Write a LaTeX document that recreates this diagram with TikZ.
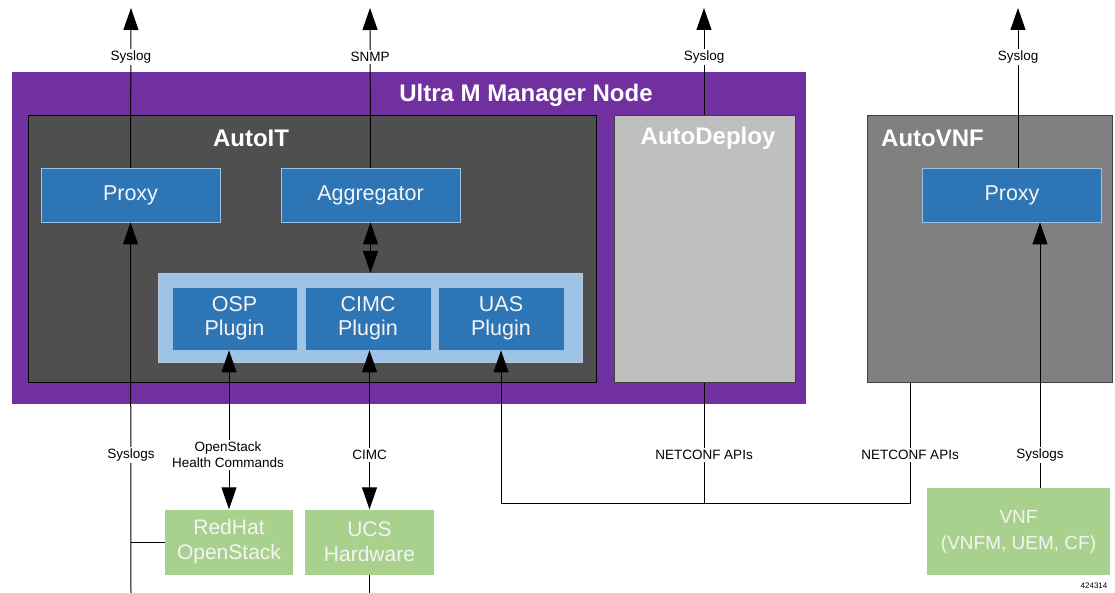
\documentclass[tikz,border=0pt]{standalone}
\usepackage{fontspec}
\setmainfont{Liberation Sans}
\usetikzlibrary{arrows.meta}
\definecolor{umpurple}{HTML}{7030A0}
\definecolor{autoitgray}{HTML}{4F4F4F}
\definecolor{deploygray}{HTML}{BFBFBF}
\definecolor{vnfgray}{HTML}{808080}
\definecolor{boxblue}{HTML}{2E75B6}
\definecolor{boxblueedge}{HTML}{9DBFE0}
\definecolor{lightblue}{HTML}{9DC3E6}
\definecolor{lightblueedge}{HTML}{B8C8D8}
\definecolor{boxgreen}{HTML}{A9D18E}
\definecolor{softwhite}{HTML}{F4F4F4}
\tikzset{
  bluebox/.style={fill=boxblue, draw=boxblueedge, line width=0.8pt, text=softwhite, font=\fontsize{21.5}{24}\selectfont, align=center, inner sep=0pt},
  greenbox/.style={fill=boxgreen, draw=none, text=softwhite, font=\fontsize{21}{25}\selectfont, align=center, inner sep=0pt},
  titletext/.style={text=white, font=\bfseries\fontsize{24}{28}\selectfont, inner sep=0pt},
  lbl/.style={fill=white, font=\fontsize{13.5}{16}\selectfont, align=center, inner sep=2pt},
  conn/.style={draw=black, line width=1pt},
  arr/.style={conn, -{Triangle[width=15pt,length=22pt]}},
  darr/.style={conn, {Triangle[width=15pt,length=22pt]}-{Triangle[width=15pt,length=22pt]}},
}
\begin{document}
\begin{tikzpicture}[x=1pt,y=-1pt]
\useasboundingbox (0,0) rectangle (1115,593);

% containers
\node[fill=umpurple, inner sep=0pt, minimum width=794pt, minimum height=332pt, anchor=north west] (ultram) at (12,72) {};
\node[fill=autoitgray, draw=black, line width=1pt, inner sep=0pt, minimum width=568pt, minimum height=267pt, anchor=north west] (autoit) at (28,115) {};
\node[fill=deploygray, draw=black!75, line width=1pt, inner sep=0pt, minimum width=181pt, minimum height=267pt, anchor=north west] (autodeploy) at (614,115) {};
\node[fill=vnfgray, draw=black!75, line width=1pt, inner sep=0pt, minimum width=245pt, minimum height=267pt, anchor=north west] (autovnf) at (867,115) {};
\node[fill=lightblue, draw=lightblueedge, line width=0.8pt, inner sep=0pt, minimum width=424pt, minimum height=89pt, anchor=north west] (plugins) at (158,273) {};

% titles
\node[titletext] (tUltra) at (526,95) {Ultra M Manager Node};
\node[titletext] (tAutoIT) at (251,138) {AutoIT};
\node[titletext] (tAutoDeploy) at (708,138) {AutoDeploy};
\node[titletext, anchor=west] (tAutoVNF) at (881,138) {AutoVNF};

% blue boxes
\node[bluebox, minimum width=179pt, minimum height=54pt] (proxy1) at (130.5,195) {Proxy};
\node[bluebox, minimum width=179pt, minimum height=54pt] (aggr) at (370.5,195) {Aggregator};
\node[bluebox, minimum width=179pt, minimum height=54pt] (proxy2) at (1012,195) {Proxy};
\node[bluebox, minimum width=125pt, minimum height=63pt] (osp) at (234.5,318.5) {OSP\\Plugin};
\node[bluebox, minimum width=126pt, minimum height=63pt] (cimc) at (368,318.5) {CIMC\\Plugin};
\node[bluebox, minimum width=126pt, minimum height=63pt] (uas) at (501,318.5) {UAS\\Plugin};

% green boxes
\node[greenbox, minimum width=128pt, minimum height=65pt] (redhat) at (229,542) {RedHat\\OpenStack};
\node[greenbox, minimum width=129pt, minimum height=65pt] (ucs) at (369.5,542) {UCS\\Hardware};
\node[greenbox, font=\fontsize{19}{26}\selectfont, minimum width=183pt, minimum height=87pt] (vnf) at (1018.5,531.5) {VNF\\(VNFM, UEM, CF)};

% helper coordinates
\coordinate (top1) at (131,8);
\coordinate (top2) at (370,8);
\coordinate (top3) at (704,8);
\coordinate (top4) at (1018,8);
\coordinate (xvnf) at (1040,0);
\coordinate (xnc) at (910,0);
\coordinate (ybus) at (0,503);
\coordinate (bot1) at (131,593);
\coordinate (bot2) at (369.5,593);

% upward syslog / snmp connectors
\draw[arr] (proxy1.north) -- (top1);
\draw[arr] (aggr.north) -- (top2);
\draw[arr] (autodeploy.north -| top3) -- (top3);
\draw[arr] (proxy2.north -| top4) -- (top4);

% internal
\draw[darr] (aggr.south) -- (plugins.north -| aggr.south);

% syslogs from bottom to AutoIT proxy
\draw[arr] (bot1) -- (proxy1.south);
\draw[conn] (redhat.west -| bot1) -- (redhat.west);

% openstack health
\draw[darr] (osp.south -| redhat.north) -- (redhat.north);
% cimc
\draw[darr] (cimc.south -| ucs.north) -- (ucs.north);
\draw[conn] (ucs.south) -- (bot2);

% NETCONF bus
\draw[arr] (autovnf.south -| xnc) -- (ybus -| xnc) -- (ybus -| uas.south) -- (uas.south);
\draw[conn] (autodeploy.south -| top3) -- (ybus -| top3);

% VNF syslogs
\draw[arr] (vnf.north -| xvnf) -- (proxy2.south -| xvnf);

% labels
\node[lbl] (lSys1) at (131,57) {Syslog};
\node[lbl] (lSnmp) at (370,57) {SNMP};
\node[lbl] (lSys3) at (704,57) {Syslog};
\node[lbl] (lSys4) at (1018,57) {Syslog};
\node[lbl] (lSyslogs1) at (131,455) {Syslogs};
\node[lbl] (lOS) at (228,455) {OpenStack\\Health Commands};
\node[lbl] (lCimc) at (369.5,455) {CIMC};
\node[lbl] (lNc1) at (704,455) {NETCONF APIs};
\node[lbl] (lNc2) at (910,455) {NETCONF APIs};
\node[lbl] (lSyslogs2) at (1040,455) {Syslogs};
\node[font=\fontsize{8}{9}\selectfont, inner sep=0pt] (fig) at (1094,586) {424314};
\end{tikzpicture}
\end{document}
